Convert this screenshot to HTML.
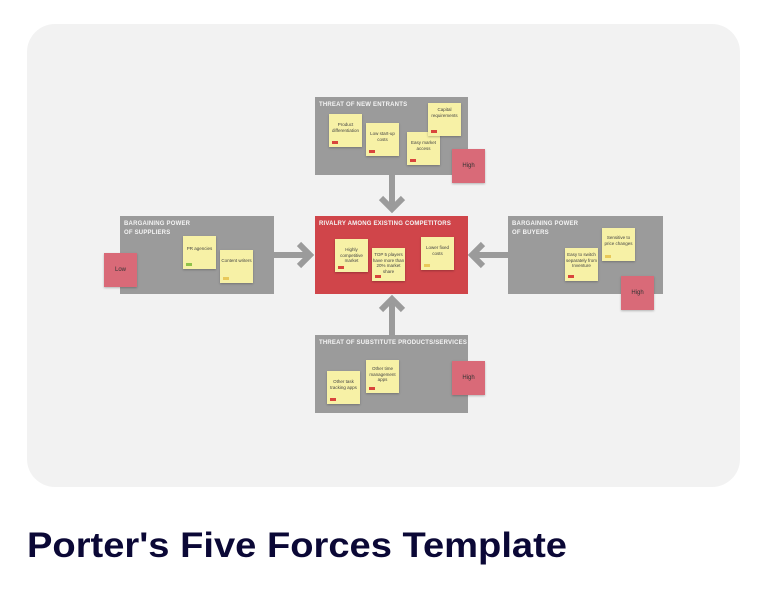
<!DOCTYPE html>
<html><head><meta charset="utf-8"><style>
body{margin:0;width:760px;height:608px;background:#fff;position:relative;overflow:hidden;font-family:"Liberation Sans",sans-serif}
.a{position:absolute}
.card{left:27px;top:24px;width:713px;height:463px;background:#f2f2f2;border-radius:28px}
.box{background:#9b9b9b}
.red{background:#d0454a}
.h{color:#f4f4f4;font-size:6px;font-weight:bold;letter-spacing:.2px;line-height:9px}
.s{background:#f7f1a6;width:33px;height:33px;font-size:4.5px;color:#444;text-align:center;box-sizing:border-box;padding-top:8px;line-height:5.5px;box-shadow:0 1px 2px rgba(0,0,0,.25)}
.s i{position:absolute;left:3px;bottom:3px;width:6px;height:3px;background:#d8453c}
.p{background:#d96a78;width:33px;height:34px;font-size:6px;color:#333;display:flex;align-items:center;justify-content:center;box-shadow:0 1px 2px rgba(0,0,0,.25)}
</style></head><body>
<div class="a card"></div>
<svg class="a" style="left:0;top:0" width="760" height="608">
<g stroke="#9b9b9b" stroke-width="6" fill="none">
<line x1="392" y1="175" x2="392" y2="210"/><polyline points="381,198 392,209 403,198"/>
<line x1="392" y1="335" x2="392" y2="298"/><polyline points="381,310 392,299 403,310"/>
<line x1="274" y1="255" x2="310" y2="255"/><polyline points="299,244 310,255 299,266"/>
<line x1="508" y1="255" x2="472" y2="255"/><polyline points="483,244 472,255 483,266"/>
</g>
<text x="27" y="557" font-family="Liberation Sans,sans-serif" font-weight="bold" font-size="35" fill="#0b0836" textLength="540" lengthAdjust="spacingAndGlyphs">Porter's Five Forces Template</text>
</svg>
<div class="a box" style="left:315px;top:97px;width:153px;height:78px"><div class="h" style="margin:4px 0 0 4px">THREAT OF NEW ENTRANTS</div></div>
<div class="a red" style="left:315px;top:216px;width:153px;height:78px"><div class="h" style="margin:4px 0 0 4px">RIVALRY AMONG EXISTING COMPETITORS</div></div>
<div class="a box" style="left:120px;top:216px;width:154px;height:78px"><div class="h" style="margin:4px 0 0 4px">BARGAINING POWER<br>OF SUPPLIERS</div></div>
<div class="a box" style="left:508px;top:216px;width:155px;height:78px"><div class="h" style="margin:4px 0 0 4px">BARGAINING POWER<br>OF BUYERS</div></div>
<div class="a box" style="left:315px;top:335px;width:153px;height:78px"><div class="h" style="margin:4px 0 0 4px">THREAT OF SUBSTITUTE PRODUCTS/SERVICES</div></div>

<div class="a s" style="left:329px;top:114px">Product differentiation<i></i></div>
<div class="a s" style="left:366px;top:123px">Low start-up costs<i></i></div>
<div class="a s" style="left:407px;top:132px">Easy market access<i></i></div>
<div class="a s" style="left:428px;top:103px;padding-top:4px">Capital requirements<i></i></div>
<div class="a p" style="left:452px;top:149px">High</div>

<div class="a s" style="left:335px;top:239px">Highly competitive market<i></i></div>
<div class="a s" style="left:372px;top:248px;padding-top:4px">TOP 5 players have more than 20% market share<i></i></div>
<div class="a s" style="left:421px;top:237px">Lower fixed costs<i style="background:#e8c85a"></i></div>

<div class="a p" style="left:104px;top:253px">Low</div>
<div class="a s" style="left:183px;top:236px;padding-top:10px">PR agencies<i style="background:#8fc24a"></i></div>
<div class="a s" style="left:220px;top:250px">Content writers<i style="background:#e8c85a"></i></div>

<div class="a s" style="left:565px;top:248px;padding-top:4px">Easy to switch separately from Inventure<i></i></div>
<div class="a s" style="left:602px;top:228px;padding-top:7px">Sensitive to price changes<i style="background:#e8c85a"></i></div>
<div class="a p" style="left:621px;top:276px">High</div>

<div class="a s" style="left:327px;top:371px">Other task tracking apps<i></i></div>
<div class="a s" style="left:366px;top:360px;padding-top:6px">Other time management apps<i></i></div>
<div class="a p" style="left:452px;top:361px">High</div>
</body></html>
